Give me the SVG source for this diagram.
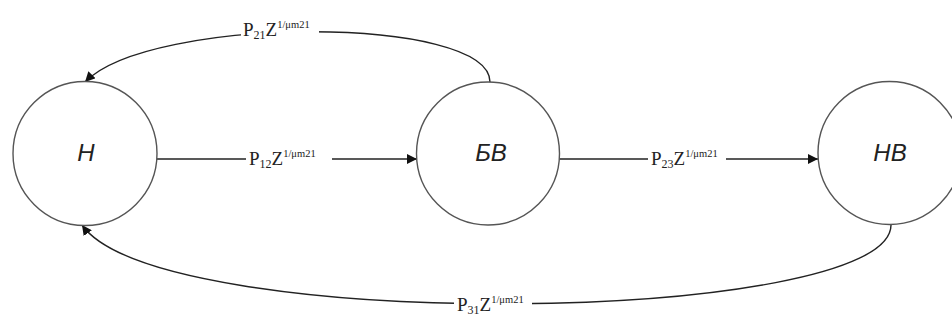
<svg xmlns="http://www.w3.org/2000/svg" width="952" height="322" viewBox="0 0 952 322">
<defs>
<marker id="arr" viewBox="0 0 10 10" refX="10" refY="5" markerWidth="10" markerHeight="10" markerUnits="userSpaceOnUse" orient="auto">
<path d="M0,0 L10,5 L0,10 z" fill="#111"/>
</marker>
<style>
.node{fill:#fff;stroke:#555;stroke-width:1.4}
.nlab{font-family:"Liberation Sans",Arial,sans-serif;font-style:italic;font-size:24px;fill:#222;text-anchor:middle}
.edge{fill:none;stroke:#222;stroke-width:1.4}
.elab{font-family:"Liberation Serif","Times New Roman",serif;font-size:19px;fill:#222}
.sub{font-size:12px}
.sup{font-size:10.5px}
.bg{fill:#fff}
</style>
</defs>
<rect width="952" height="322" fill="#fff"/>
<g id="connectors">
<path class="edge" d="M157,159 L417,159" marker-end="url(#arr)"/>
<path class="edge" d="M559,159 L818,159" marker-end="url(#arr)"/>
<path class="edge" d="M490,82 C490,15 150,15 85,82" marker-end="url(#arr)"/>
<path class="edge" d="M891,225 C891,325 160,335 82,225" marker-end="url(#arr)"/>
<rect class="bg" x="241" y="18" width="78" height="22"/>
<text class="elab" x="243" y="36">P<tspan class="sub" dy="3">21</tspan><tspan dy="-3">Z</tspan><tspan class="sup" dy="-8">1/μm21</tspan></text>
<rect class="bg" x="246" y="145" width="86" height="22"/>
<text class="elab" x="249" y="165">P<tspan class="sub" dy="3">12</tspan><tspan dy="-3">Z</tspan><tspan class="sup" dy="-8">1/μm21</tspan></text>
<rect class="bg" x="648" y="145" width="78" height="22"/>
<text class="elab" x="651" y="165">P<tspan class="sub" dy="3">23</tspan><tspan dy="-3">Z</tspan><tspan class="sup" dy="-8">1/μm21</tspan></text>
<rect class="bg" x="454" y="290" width="78" height="32"/>
<text class="elab" x="457" y="311">P<tspan class="sub" dy="3">31</tspan><tspan dy="-3">Z</tspan><tspan class="sup" dy="-8">1/μm21</tspan></text>
</g>
<g id="node-H">
<circle class="node" cx="85" cy="153.5" r="72"/>
<text class="nlab" x="86" y="161">Н</text>
</g>
<g id="node-BV">
<circle class="node" cx="488" cy="153.5" r="71.5"/>
<text class="nlab" x="491" y="161">БВ</text>
</g>
<g id="node-NV">
<circle class="node" cx="889.5" cy="153" r="71.5"/>
<text class="nlab" x="890" y="161">НВ</text>
</g>
</svg>
